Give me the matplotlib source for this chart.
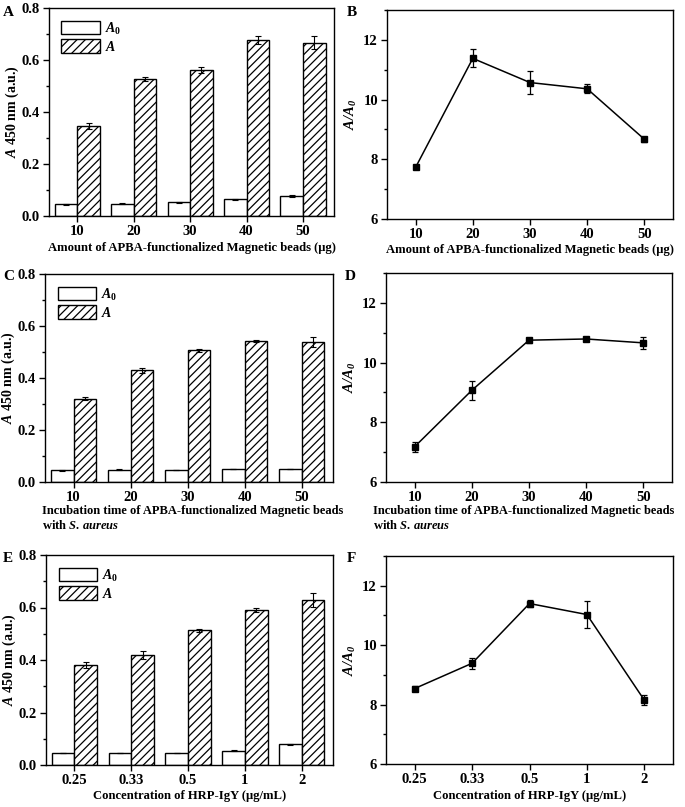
import numpy as np
import matplotlib
matplotlib.use('Agg')
import matplotlib.pyplot as plt
from matplotlib.ticker import MultipleLocator

plt.rcParams['font.family'] = 'Liberation Serif'
plt.rcParams['font.weight'] = 'bold'
plt.rcParams['axes.labelweight'] = 'bold'
plt.rcParams['font.size'] = 9.5
plt.rcParams['mathtext.fontset'] = 'custom'
plt.rcParams['mathtext.rm'] = 'Liberation Serif:bold'
plt.rcParams['mathtext.it'] = 'Liberation Serif:italic:bold'
plt.rcParams['mathtext.bf'] = 'Liberation Serif:bold'
plt.rcParams['mathtext.sf'] = 'Liberation Serif:italic'
plt.rcParams['hatch.linewidth'] = 0.9

# panel A / B
amount = ['10', '20', '30', '40', '50']
a0_amount = [0.045, 0.047, 0.053, 0.064, 0.077]
a0_amount_err = [0.002, 0.002, 0.002, 0.002, 0.003]
a_amount = [0.346, 0.527, 0.562, 0.677, 0.667]
a_amount_err = [0.012, 0.006, 0.012, 0.017, 0.025]
ratio_amount = [7.73, 11.38, 10.57, 10.36, 8.67]
ratio_amount_err = [0.05, 0.30, 0.38, 0.15, 0.08]

# panel C / D
incub = ['10', '20', '30', '40', '50']
a0_incub = [0.045, 0.047, 0.046, 0.050, 0.050]
a0_incub_err = [0.002, 0.002, 0.001, 0.001, 0.001]
a_incub = [0.321, 0.429, 0.506, 0.543, 0.539]
a_incub_err = [0.005, 0.009, 0.005, 0.005, 0.018]
ratio_incub = [7.18, 9.07, 10.75, 10.79, 10.66]
ratio_incub_err = [0.17, 0.32, 0.08, 0.04, 0.20]

# panel E / F
conc = ['0.25', '0.33', '0.5', '1', '2']
a0_conc = [0.046, 0.046, 0.046, 0.055, 0.079]
a0_conc_err = [0.001, 0.001, 0.001, 0.003, 0.002]
a_conc = [0.381, 0.419, 0.513, 0.590, 0.630]
a_conc_err = [0.013, 0.014, 0.005, 0.009, 0.027]
ratio_conc = [8.54, 9.39, 11.40, 11.03, 8.15]
ratio_conc_err = [0.10, 0.18, 0.12, 0.45, 0.18]

W, H = 685, 807
fig = plt.figure(figsize=(W / 100, H / 100), dpi=100)


def box(l, t, r, b):
    return [l / W, 1 - b / H, (r - l) / W, (b - t) / H]


def style(ax, w):
    ax.tick_params(direction='out', length=4, width=1, labelsize=10.5, pad=2.5)
    ax.tick_params(which='minor', direction='out', length=2.5, width=1)
    ax.tick_params(top=False, right=False)
    ax.yaxis.set_label_coords(-28 / w, 0.5)
    for s in ax.spines.values():
        s.set_linewidth(1)


def bars(ax, cats, a0, a0e, a, ae, w):
    x = np.arange(len(cats))
    ax.bar(x - 0.2, a0, 0.4, yerr=a0e, color='white', edgecolor='black',
           linewidth=1, capsize=2, error_kw=dict(elinewidth=0.8, capthick=0.8),
           label='$A_0$')
    ax.bar(x + 0.2, a, 0.4, yerr=ae, color='white', edgecolor='black',
           hatch='////', linewidth=1, capsize=2,
           error_kw=dict(elinewidth=0.8, capthick=0.8), label='$A$')
    ax.set_xticks(x)
    ax.set_xticklabels(cats)
    ax.set_xlim(-0.5, 4.55)
    ax.set_ylim(0, 0.8)
    ax.yaxis.set_major_locator(MultipleLocator(0.2))
    ax.yaxis.set_minor_locator(MultipleLocator(0.1))
    ax.set_ylabel('$A$ 450 nm (a.u.)', fontsize=10)
    ax.legend(loc='upper left', frameon=False, fontsize=10, handlelength=2.8,
              handleheight=1.1, borderaxespad=0.5, labelspacing=0.2,
              handletextpad=0.3)
    style(ax, w)


def line(ax, cats, r, re, w):
    x = np.arange(len(cats))
    ax.errorbar(x, r, yerr=re, color='black', marker='s', markersize=5,
                linewidth=1.1, capsize=2.5, elinewidth=0.9, capthick=0.9)
    ax.set_xticks(x)
    ax.set_xticklabels(cats)
    ax.set_xlim(-0.5, 4.5)
    ax.set_ylim(6, 13)
    ax.yaxis.set_major_locator(MultipleLocator(2))
    ax.yaxis.set_minor_locator(MultipleLocator(1))
    ax.set_ylabel(r'$\mathsf{A/A_0}$', fontsize=10.5)
    style(ax, w)


axA = fig.add_axes(box(49, 8, 334, 216))
bars(axA, amount, a0_amount, a0_amount_err, a_amount, a_amount_err, 285)
axA.set_xlabel('Amount of APBA-functionalized Magnetic beads (μg)', fontsize=9.1, labelpad=2.5)

axB = fig.add_axes(box(387, 10, 673, 219))
line(axB, amount, ratio_amount, ratio_amount_err, 286)
axB.set_xlabel('Amount of APBA-functionalized Magnetic beads (μg)', fontsize=9.1, labelpad=2.5)

incub_label = 'Incubation time of APBA-functionalized Magnetic beads\nwith $\\mathit{S.\\,aureus}$'
axC = fig.add_axes(box(45, 274, 333, 482))
bars(axC, incub, a0_incub, a0_incub_err, a_incub, a_incub_err, 288)
axC.set_xlabel(incub_label, fontsize=9.0, ha='left', x=-3 / 288,
               linespacing=1.15, labelpad=1)

axD = fig.add_axes(box(386, 273, 672, 482))
line(axD, incub, ratio_incub, ratio_incub_err, 286)
axD.set_xlabel(incub_label, fontsize=9.0, ha='left', x=-13 / 286,
               linespacing=1.15, labelpad=1)

axE = fig.add_axes(box(46, 555, 333, 765))
bars(axE, conc, a0_conc, a0_conc_err, a_conc, a_conc_err, 287)
axE.set_xlabel('Concentration of HRP-IgY (μg/mL)', fontsize=9.1, labelpad=2.5)

axF = fig.add_axes(box(386, 556, 673, 764))
line(axF, conc, ratio_conc, ratio_conc_err, 287)
axF.set_xlabel('Concentration of HRP-IgY (μg/mL)', fontsize=9.1, labelpad=2.5)

for lab, px, py in [('A', 3, 16), ('B', 347, 16), ('C', 3, 280),
                    ('D', 345, 280), ('E', 3, 562), ('F', 347, 562)]:
    fig.text(px / W, 1 - py / H, lab, fontsize=11, fontweight='bold')

fig.savefig('out.png', dpi=100)
